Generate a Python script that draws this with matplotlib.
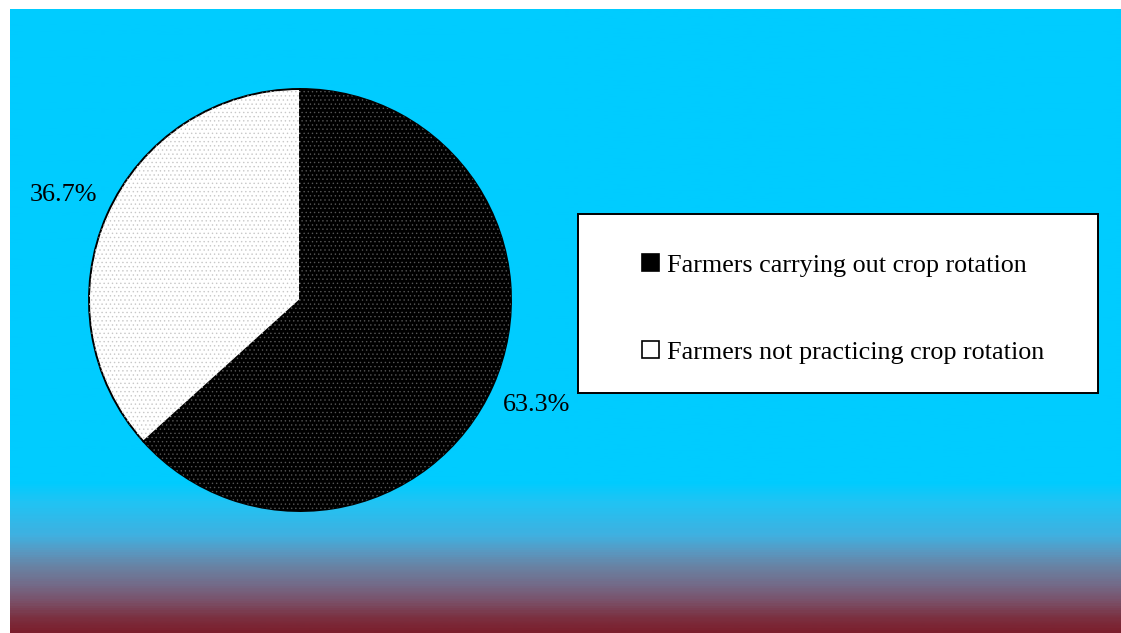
import numpy as np
import matplotlib.pyplot as plt
from matplotlib.colors import LinearSegmentedColormap
from matplotlib.patches import Rectangle

labels = ["Farmers carrying out crop rotation", "Farmers not practicing crop rotation"]
shares = [63.3, 36.7]
colors = ["black", "white"]
dots = ["#555555", "#c8c8c8"]

plt.rcParams["font.family"] = ["Liberation Serif", "DejaVu Serif"]
plt.rcParams["hatch.linewidth"] = 0.5

W, H = 1121, 633
fig = plt.figure(figsize=(W / 100, H / 100), dpi=100, facecolor="white")

# slide background: flat cyan, fading to maroon near the bottom
bg = fig.add_axes([10 / W, 0, 1 - 10 / W, 1 - 9 / H])
bg.set_axis_off()
stops = [(0.0, "#00ccff"), (0.76, "#00ccff"), (0.792, "#20c4f4"),
         (0.846, "#40b0e0"), (0.872, "#5a98c0"), (0.899, "#6a80a0"),
         (0.926, "#746a88"), (0.952, "#7a5068"), (0.979, "#7b3040"),
         (1.0, "#7b1f2d")]
cmap = LinearSegmentedColormap.from_list("slide", stops)
grad = np.linspace(0, 1, 600).reshape(-1, 1)
bg.imshow(grad, aspect="auto", cmap=cmap, extent=[0, 1, 0, 1], origin="upper")

# pie
cx, cy, r = 300, 300, 211
ax = fig.add_axes([(cx - r) / W, (H - cy - r) / H, 2 * r / W, 2 * r / H])
ax.patch.set_alpha(0)
wedges, _, pcts = ax.pie(shares, colors=colors, startangle=90, counterclock=False,
                         autopct="%.1f%%", pctdistance=1.225,
                         wedgeprops=dict(edgecolor="black", linewidth=1.4),
                         textprops=dict(fontsize=18.8, color="black"))
# fine dot texture over each slice
over, _ = ax.pie(shares, startangle=90, counterclock=False,
                 colors=["none", "none"], wedgeprops=dict(linewidth=0))
for p, dc in zip(over, dots):
    p.set_hatch("....")
    p.set_edgecolor(dc)
    p.set_linewidth(0)
ax.set_xlim(-1, 1)
ax.set_ylim(-1, 1)

# legend box
x0, x1, y0, y1 = 578, 1098, 214, 393
fig.patches.append(Rectangle((x0 / W, (H - y1) / H), (x1 - x0) / W, (y1 - y0) / H,
                             transform=fig.transFigure, facecolor="white",
                             edgecolor="black", linewidth=1.4, zorder=5))
leg = fig.legend(wedges, labels, loc="upper left",
                 bbox_to_anchor=(629 / W, 1 - 241 / H), frameon=False,
                 fontsize=18.8, handlelength=0.65, handleheight=0.65,
                 handletextpad=0.3, labelspacing=2.45, borderpad=0)
leg.set_zorder(6)
for h in leg.legend_handles:
    h.set_linewidth(1.2)

fig.savefig("out.png", dpi=100, facecolor=fig.get_facecolor())
